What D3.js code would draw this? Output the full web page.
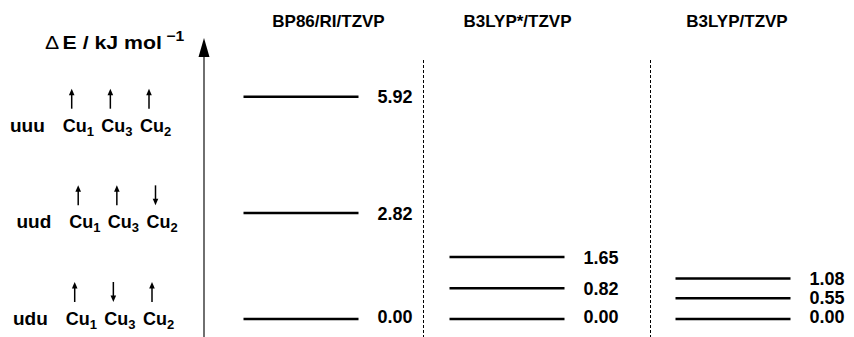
<!DOCTYPE html>
<html>
<head>
<meta charset="utf-8">
<script src="https://cdn.jsdelivr.net/npm/d3@7/dist/d3.min.js"></script>
<style>
  html, body { margin: 0; padding: 0; background: #fff; }
  svg { display: block; font-family: "Liberation Sans", Arial, Helvetica, sans-serif; }
  text { font-weight: bold; fill: #000; }
</style>
</head>
<body>
<svg id="chart" width="854" height="337"></svg>
<script>
// Relative energies (kJ/mol) of the three spin states, per method
const methods = ["BP86/RI/TZVP", "B3LYP*/TZVP", "B3LYP/TZVP"];
const states = ["udu", "uud", "uuu"];
const bp86 = [0.00, 2.82, 5.92];
const b3lypStar = [0.00, 0.82, 1.65];
const b3lyp = [0.00, 0.55, 1.08];
const energies = [bp86, b3lypStar, b3lyp];

// Spin orientation on each copper centre, per state
const centres = [{ el: "Cu", sub: "1" }, { el: "Cu", sub: "3" }, { el: "Cu", sub: "2" }];
const spins = [["u", "d", "u"], ["u", "u", "d"], ["u", "u", "u"]];

const svg = d3.select("#chart");
const fmt = d3.format(".2f");

// Energy scale
const y = d3.scaleLinear().domain([0, 6]).range([319, 93.7]);

// Column layout
const colCentre = d3.scaleOrdinal(methods, [301, 507, 733]);
const titleX = d3.scaleOrdinal(methods, [328.5, 517.5, 737]);
const halfBar = 57.5;
const separators = [423.5, 650.5];

// Method titles
svg.selectAll("text.title").data(methods).join("text")
  .attr("class", "title")
  .attr("x", d => titleX(d))
  .attr("y", 26.5)
  .attr("text-anchor", "middle")
  .style("font-size", "17px")
  .text(d => d);

// Dashed separators between methods
svg.selectAll("line.sep").data(separators).join("line")
  .attr("x1", d => d).attr("x2", d => d)
  .attr("y1", 60).attr("y2", 337)
  .attr("stroke", "#000").attr("stroke-width", 1)
  .attr("stroke-dasharray", "3,2");

// Energy axis with arrowhead
const axisX = 204;
svg.append("line")
  .attr("x1", axisX).attr("x2", axisX)
  .attr("y1", 337).attr("y2", 52)
  .attr("stroke", "#222").attr("stroke-width", 1.3);
svg.append("path")
  .attr("d", `M${axisX},38 L${axisX - 5.5},57 L${axisX + 5.5},57 Z`)
  .attr("fill", "#000");

// Axis title: ΔE / kJ mol^-1
const axTitle = svg.append("g").attr("transform", "translate(45,48.5) scale(1.12,1)")
  .append("text").attr("x", 0).attr("y", 0).style("font-size", "19px");
axTitle.append("tspan").style("font-weight", "normal").text("\u0394");
axTitle.append("tspan").attr("dx", 3).text("E / kJ mol");
axTitle.append("tspan").attr("dx", 4).attr("dy", -8).style("font-size", "14px").text("\u22121");

// Energy levels and value labels
methods.forEach((m, i) => {
  const vals = energies[i];
  const g = svg.append("g");
  g.selectAll("line").data(vals).join("line")
    .attr("x1", colCentre(m) - halfBar)
    .attr("x2", colCentre(m) + halfBar)
    .attr("y1", d => y(d)).attr("y2", d => y(d))
    .attr("stroke", "#000").attr("stroke-width", 2.5);

  // label positions: centred on level, nudged up to avoid overlap / clipping
  const minGap = 19, lowest = 317;
  let prev = Infinity;
  const ly = vals.map(v => {
    const p = Math.min(y(v), lowest, prev - minGap);
    prev = p;
    return p;
  });
  g.selectAll("text").data(vals).join("text")
    .attr("x", colCentre(m) + halfBar + 19)
    .attr("y", (d, k) => ly[k])
    .attr("dy", "0.36em")
    .style("font-size", "18px")
    .text(d => fmt(d));
});

// Spin-state labels on the left
const rowY = d3.scalePoint(states, [325, 131.7]);
const rowDx = [3, 6.5, 0];
const cuX = d3.scalePoint(d3.range(centres.length), [62.7, 140]);

states.forEach((s, i) => {
  const base = rowY(s);
  const g = svg.append("g").attr("transform", `translate(${rowDx[i]},${base})`);
  g.append("text").attr("x", 10).attr("y", 0).style("font-size", "19px").text(s);

  centres.forEach((c, k) => {
    const t = g.append("text").attr("x", cuX(k)).attr("y", 0).style("font-size", "18px");
    t.append("tspan").text(c.el);
    t.append("tspan").attr("dy", 4).style("font-size", "13px").text(c.sub);

    // spin arrow
    const ax = cuX(k) + 9;
    const up = spins[i][k] === "u";
    const tip = up ? -43 : -23, tail = up ? -23 : -43;
    const head = up ? 6.5 : -6.5;
    g.append("line")
      .attr("x1", ax).attr("x2", ax)
      .attr("y1", tail).attr("y2", tip + head * 0.8)
      .attr("stroke", "#000").attr("stroke-width", 1.5);
    g.append("path")
      .attr("d", `M${ax},${tip} L${ax - 2.8},${tip + head} L${ax + 2.8},${tip + head} Z`)
      .attr("fill", "#000");
  });
});
</script>
</body>
</html>
